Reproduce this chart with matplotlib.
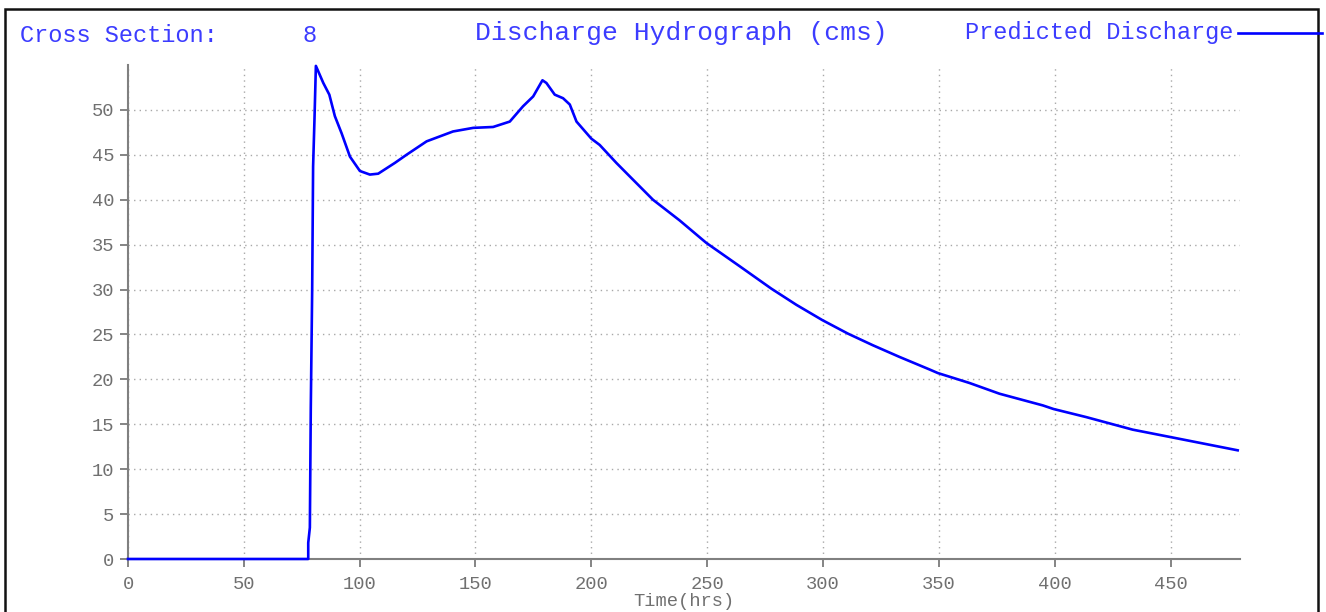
import matplotlib
matplotlib.use("Agg")
import matplotlib.pyplot as plt
from matplotlib.lines import Line2D
from matplotlib.patches import Rectangle

# Hydrograph at cross section 8 (time in hours, discharge in cms)
time_hrs = [0, 77.8, 77.8, 78.5, 78.9, 79.5, 79.9, 80.5, 81.1,
            84.3, 86.9, 89.3, 92.2, 95.8, 100.1, 104.4, 108.0, 111.6,
            115.2, 120.2, 128.9, 140.3, 149.0, 157.6, 164.8, 170.5,
            174.9, 178.9, 180.6, 184.2, 187.8, 190.7, 193.6, 200.0,
            203.6, 210.8, 215.8, 226.6, 238.1, 249.6, 264.0, 277.7,
            288.5, 299.7, 310.7, 321.5, 333.0, 346.0, 349.6, 363.2,
            376.2, 394.9, 399.5, 413.6, 433.7, 449.5, 479.0]
discharge = [0, 0, 1.8, 3.5, 16.8, 30.0, 43.7, 49.0, 54.9,
             53.0, 51.7, 49.3, 47.4, 44.8, 43.2, 42.8, 42.9, 43.5,
             44.1, 45.0, 46.5, 47.6, 48.0, 48.1, 48.7, 50.4,
             51.5, 53.3, 53.0, 51.7, 51.3, 50.6, 48.7, 46.8,
             46.1, 44.1, 42.8, 40.0, 37.7, 35.2, 32.6, 30.1,
             28.3, 26.6, 25.1, 23.8, 22.5, 21.1, 20.7, 19.6,
             18.4, 17.1, 16.7, 15.8, 14.4, 13.6, 12.1]

x_ticks = list(range(0, 451, 50))
y_ticks = list(range(0, 51, 5))
section = "8"

font = "Liberation Mono"
text_blue = "#3c3cff"
tick_grey = "#707070"

fig = plt.figure(figsize=(13.26, 6.12), dpi=100)
ax = fig.add_axes([128 / 1326, 1 - 559 / 612, (1240 - 128) / 1326, (559 - 65) / 612])

# drawn above the spines so the zero stretch stays blue
ax.plot(time_hrs, discharge, color="#0000ff", linewidth=1.9, zorder=3,
        clip_on=False)

ax.set_xlim(0, 480)
ax.set_ylim(0, 55)
ax.set_xticks(x_ticks)
ax.set_yticks(y_ticks)
ax.tick_params(axis="both", colors=tick_grey, length=6, width=1.2, pad=4,
               labelsize=13.5)
ax.tick_params(axis="x", pad=6)
for lbl in ax.get_xticklabels() + ax.get_yticklabels():
    lbl.set_fontfamily(font)
    lbl.set_color(tick_grey)

ax.grid(True, color="#a8a8a8", linestyle=(0, (1, 3)), linewidth=1.0)
ax.set_axisbelow(True)
for side in ("top", "right"):
    ax.spines[side].set_visible(False)
for side in ("left", "bottom"):
    ax.spines[side].set_color("#808080")
    ax.spines[side].set_linewidth(1.5)

ax.set_xlabel("Time(hrs)", fontfamily=font, fontsize=13.5, color=tick_grey,
              labelpad=0)

# header line
fig.text(20 / 1326, 1 - 36 / 612, "Cross Section:", fontfamily=font,
         fontsize=17, color=text_blue, ha="left", va="center")
fig.text(302 / 1326, 1 - 35 / 612, section, fontfamily=font,
         fontsize=17, color=text_blue, ha="left", va="center")
fig.text(475 / 1326, 1 - 33 / 612, "Discharge Hydrograph (cms)",
         fontfamily=font, fontsize=19, color=text_blue, ha="left",
         va="center")
fig.text(965 / 1326, 1 - 33 / 612, "Predicted Discharge", fontfamily=font,
         fontsize=17, color=text_blue, ha="left", va="center")
fig.add_artist(Line2D([1238 / 1326, 1322 / 1326], [1 - 33 / 612, 1 - 33 / 612],
                      transform=fig.transFigure, color="#0000ff",
                      linewidth=1.9))

# outer frame
fig.add_artist(Rectangle((5 / 1326, -0.05), (1318 - 5) / 1326,
                         1.05 - 9 / 612, transform=fig.transFigure,
                         fill=False, edgecolor="#111111", linewidth=1.8))

fig.savefig("out.png", dpi=100)
